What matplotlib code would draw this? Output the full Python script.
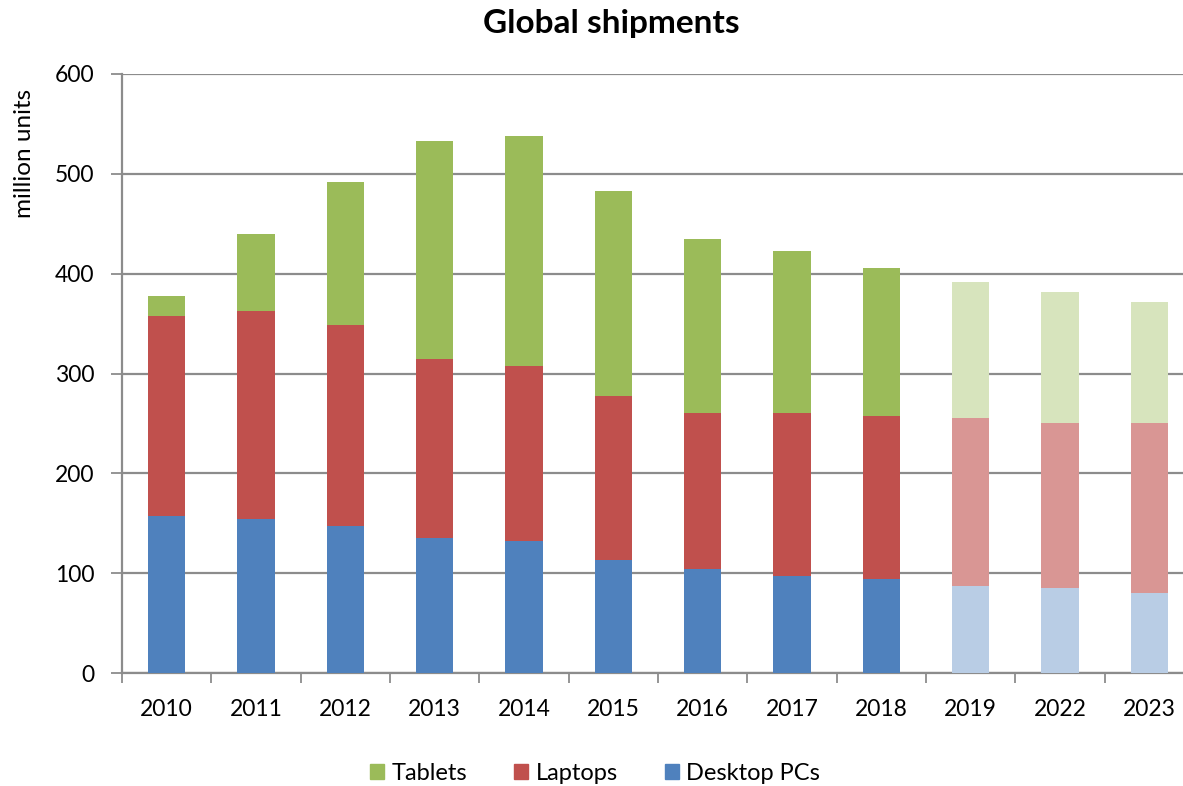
import numpy as np
import matplotlib
matplotlib.use("Agg")
import matplotlib.pyplot as plt
from matplotlib.patches import Patch

plt.rcParams['font.family'] = ['Lato', 'DejaVu Sans']

# shipments in million units
years = ["2010", "2011", "2012", "2013", "2014", "2015", "2016", "2017",
         "2018", "2019", "2022", "2023"]
desktops = [157, 154, 147, 135, 132, 113, 104, 97, 94, 87, 85, 80]
laptops = [201, 209, 202, 180, 176, 164, 156, 163, 163, 168, 165, 170]
tablets = [20, 77, 143, 218, 230, 206, 175, 163, 149, 137, 132, 122]
n_actual = 9  # the rest are forecasts

colors = {"Desktop PCs": ("#4F81BD", "#B9CDE5"),
          "Laptops": ("#C0504D", "#D99694"),
          "Tablets": ("#9BBB59", "#D7E4BD")}

fig = plt.figure(figsize=(11.83, 7.86), dpi=100)
ax = fig.add_axes([122 / 1183, 113 / 786, 1072 / 1183, 599 / 786])

x = np.arange(len(years))
bottom = np.zeros(len(years))
for name, vals in [("Desktop PCs", desktops), ("Laptops", laptops), ("Tablets", tablets)]:
    dark, light = colors[name]
    cols = [dark if i < n_actual else light for i in range(len(years))]
    ax.bar(x, vals, width=0.415, bottom=bottom, color=cols, zorder=3)
    bottom += np.array(vals)

ax.set_xlim(-0.5, len(years) - 0.5)
ax.set_ylim(0, 600)
ax.set_yticks(range(0, 601, 100))
ax.yaxis.grid(True, color="#8c8c8c", linewidth=1.6, zorder=0)
ax.set_xticks(x)
ax.set_xticklabels(years)
ax.set_xticks(np.arange(-0.5, len(years)), minor=True)
ax.tick_params(axis="x", which="major", length=0, pad=19, labelsize=16.5)
ax.tick_params(axis="x", which="minor", length=7, width=1.3, color="#8c8c8c")
ax.tick_params(axis="y", length=8, width=1.3, color="#8c8c8c", labelsize=16.5, pad=12)
for s in ["top", "right"]:
    ax.spines[s].set_visible(False)
for s in ["left", "bottom"]:
    ax.spines[s].set_color("#8c8c8c")
    ax.spines[s].set_linewidth(1.6)

fig.text(611 / 1183, 1 - 23 / 786, "Global shipments", ha="center", va="center",
         fontsize=24, fontweight="bold")
fig.text(25 / 1183, 1 - 153 / 786, "million units", rotation=90, ha="center",
         va="center", fontsize=17.5)

handles = [Patch(color=colors[k][0], label=k) for k in ["Tablets", "Laptops", "Desktop PCs"]]
fig.legend(handles=handles, loc="center", bbox_to_anchor=(595 / 1183, 1 - 773 / 786),
           ncol=3, frameon=False, fontsize=17, handlelength=0.6, handleheight=0.6,
           handletextpad=0.3, columnspacing=2.0)

fig.savefig("out.png", dpi=100)
